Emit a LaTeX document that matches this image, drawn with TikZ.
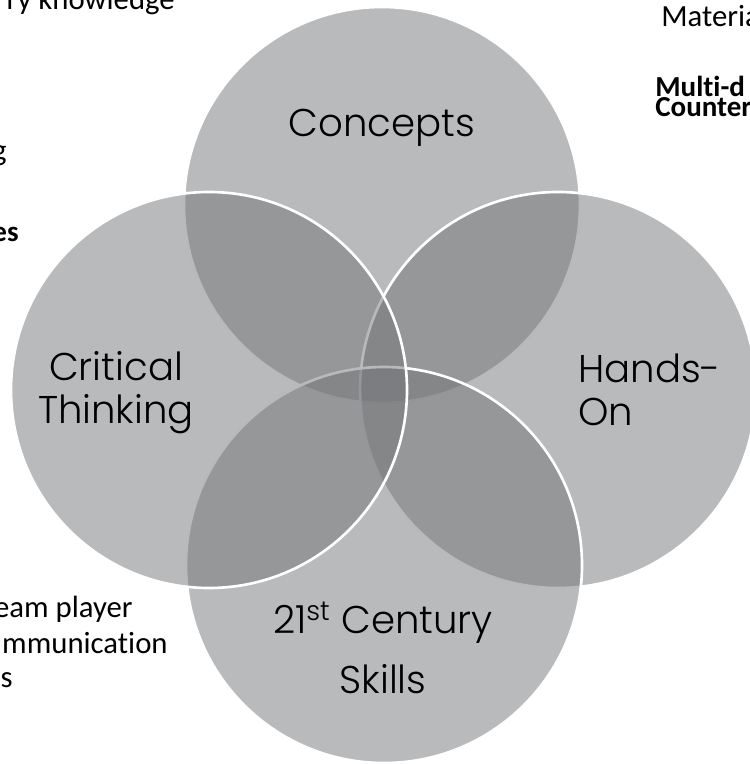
\documentclass[tikz,border=0pt]{standalone}
\usepackage{fontspec}
\setmainfont{Carlito}[Ligatures=NoCommon]
\newfontfamily\gothic{Poppins Light}
\usepackage{xcolor}
\definecolor{ringgray}{RGB}{115,117,120}

\tikzset{
  ring/.style={fill=ringgray,fill opacity=0.5,draw=white,line width=1.5pt},
  ringtext/.style={font=\gothic\fontsize{22}{24}\selectfont,inner sep=0pt,align=center},
  sidetext/.style={font=\fontsize{17.5}{20}\selectfont,inner sep=0pt},
  sidebold/.style={font=\fontsize{16.5}{20}\selectfont\bfseries,inner sep=0pt}
}

\begin{document}
\begin{tikzpicture}
\useasboundingbox (0,0) rectangle (14.98,-15.28);
% four rings, clockwise from the top
\path[ring] (7.64,-4.10) circle (3.96);
\path[ring] (11.16,-7.80) circle (3.96);
\path[ring] (7.68,-11.30) circle (3.96);
\path[ring] (4.18,-7.80) circle (3.96);
% ring titles (base = last line)
\node[ringtext,anchor=base] (concepts) at (7.64,-2.74) {Concepts};
\node[ringtext,anchor=base] (critical) at (2.32,-8.46) {Critical\\Thinking};
\node[ringtext,anchor=base west,align=left] (handson) at (11.56,-8.50) {Hands-\\On};
\node[ringtext,anchor=base] (century) at (7.66,-13.86) {21\textsuperscript{st} Century\\[10pt]Skills};
% notes cut off at the page edges
\node[sidetext,anchor=base east] (knowledge) at (3.50,-0.20) {ry knowledge};
\node[sidetext,anchor=base east] (thinkg) at (0.14,-3.22) {g};
\node[sidebold,anchor=base east] (boldes) at (0.38,-4.84) {es};
\node[sidetext,anchor=base east] (team) at (2.66,-12.34) {eam player};
\node[sidetext,anchor=base east] (comm) at (3.36,-13.06) {mmunication};
\node[sidetext,anchor=base east] (skilss) at (0.26,-13.74) {s};
\node[sidetext,anchor=base west] (material) at (13.22,-0.54) {Materia};
\node[sidebold,anchor=base west] (multi) at (13.10,-1.94) {Multi-d};
\node[sidebold,anchor=base west] (counter) at (13.10,-2.34) {Counter};
\end{tikzpicture}
\end{document}
